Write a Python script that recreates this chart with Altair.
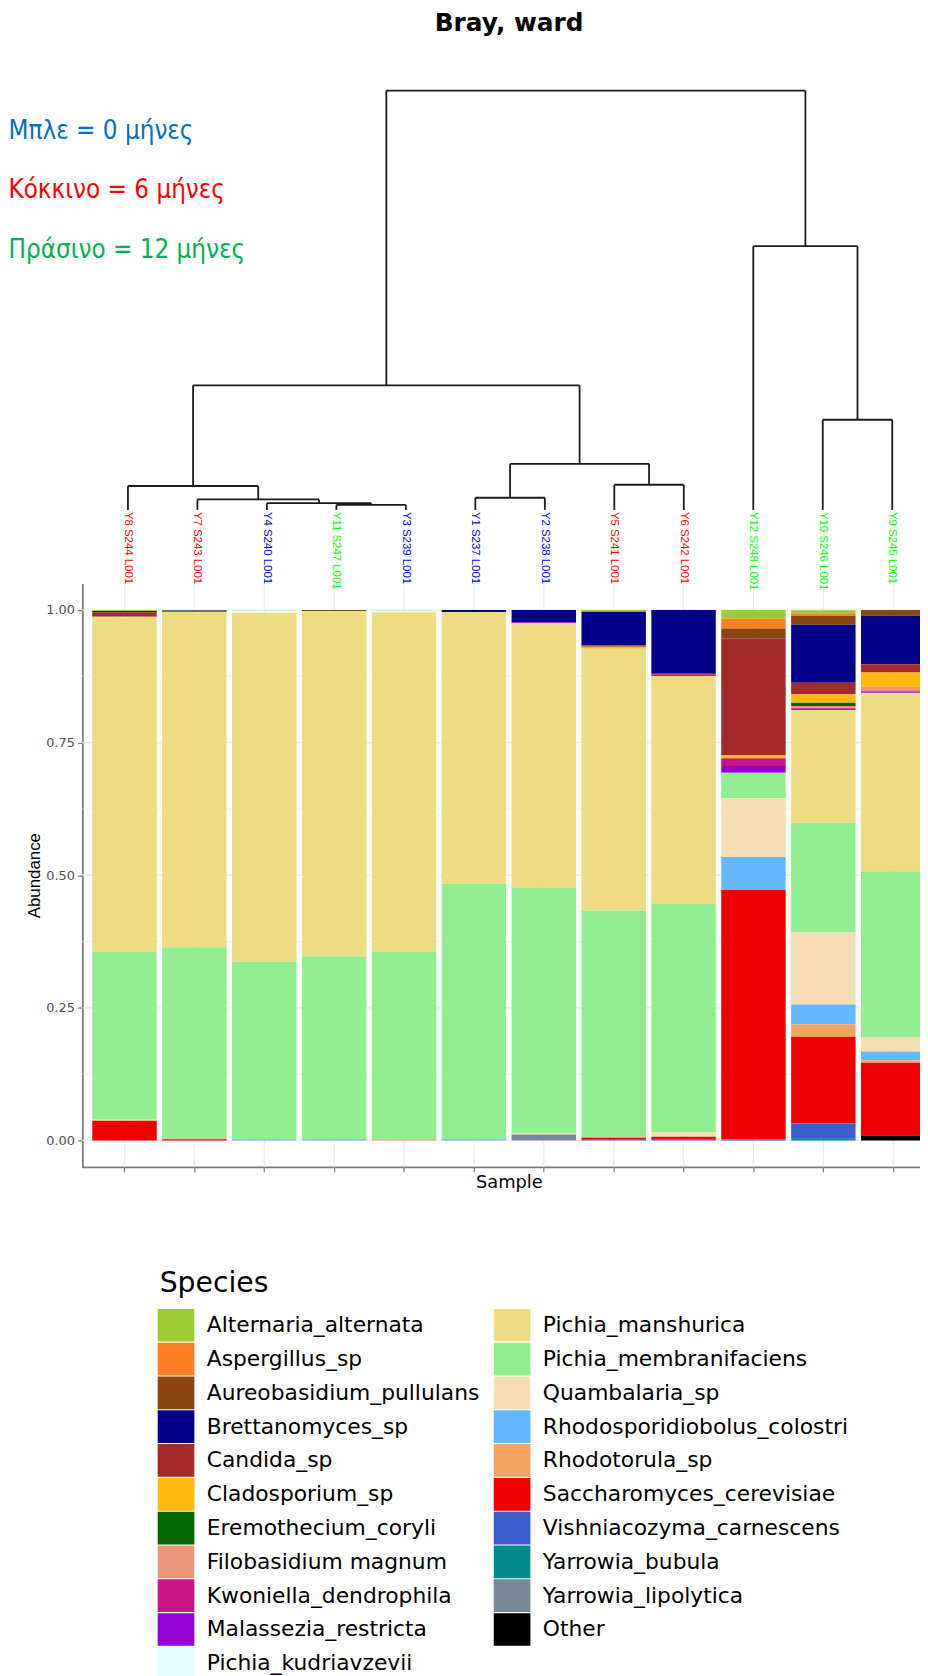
import altair as alt
import pandas as pd

# ---------------- data ----------------
species = ["Alternaria_alternata", "Aspergillus_sp", "Aureobasidium_pullulans",
           "Brettanomyces_sp", "Candida_sp", "Cladosporium_sp", "Eremothecium_coryli",
           "Filobasidium magnum", "Kwoniella_dendrophila", "Malassezia_restricta",
           "Pichia_kudriavzevii", "Pichia_manshurica", "Pichia_membranifaciens",
           "Quambalaria_sp", "Rhodosporidiobolus_colostri", "Rhodotorula_sp",
           "Saccharomyces_cerevisiae", "Vishniacozyma_carnescens", "Yarrowia_bubula",
           "Yarrowia_lipolytica", "Other"]
species_colors = ["#9ACD32", "#FF7F24", "#8B4513", "#00008B", "#A52A2A", "#FFB90F",
                  "#006400", "#E9967A", "#C71585", "#9400D3", "#E0FFFF", "#EEDC82",
                  "#90EE90", "#F5DEB3", "#63B8FF", "#F4A460", "#EE0000", "#3A5FCD",
                  "#008B8B", "#778899", "#000000"]

samples = ["Y8 S244 L001", "Y7 S243 L001", "Y4 S240 L001", "Y11 S247 L001",
           "Y3 S239 L001", "Y1 S237 L001", "Y2 S238 L001", "Y5 S241 L001",
           "Y6 S242 L001", "Y12 S248 L001", "Y10 S246 L001", "Y9 S245 L001"]
months = [6, 6, 0, 12, 0, 0, 0, 6, 6, 12, 12, 12]

#        Alt    Asp    Aur    Bret   Cand   Clad   Erem   Filo   Kwon   Mala   Pkud   Pman    Pmem    Quam   Rhsp   Rhot   Sacc   Vish   Ybub   Ylip   Oth
Y8  = [0.002, 0, 0, 0.002, 0.0086, 0, 0, 0, 0, 0, 0, 0.6324, 0.316, 0.002, 0, 0, 0.037, 0, 0, 0, 0]
Y7  = [0.001, 0, 0, 0.002, 0, 0, 0, 0, 0, 0, 0, 0.633, 0.361, 0, 0, 0.001, 0.002, 0, 0, 0, 0]
Y4  = [0.001, 0, 0, 0, 0, 0, 0, 0, 0, 0, 0.004, 0.658, 0.335, 0, 0.002, 0, 0, 0, 0, 0, 0]
Y11 = [0, 0, 0.002, 0, 0, 0, 0, 0, 0, 0, 0, 0.651, 0.345, 0, 0.002, 0, 0, 0, 0, 0, 0]
Y3  = [0.001, 0, 0, 0, 0, 0, 0, 0, 0, 0, 0.003, 0.641, 0.353, 0, 0, 0.002, 0, 0, 0, 0, 0]
Y1  = [0, 0, 0, 0.0035, 0, 0, 0, 0, 0, 0, 0, 0.5125, 0.482, 0, 0.002, 0, 0, 0, 0, 0, 0]
Y2  = [0, 0, 0, 0.023, 0, 0, 0, 0, 0, 0.002, 0, 0.498, 0.464, 0.002, 0, 0, 0, 0, 0, 0.011, 0]
Y5  = [0.003, 0, 0, 0.064, 0.002, 0.004, 0, 0, 0, 0, 0, 0.494, 0.426, 0, 0, 0.002, 0.004, 0.001, 0, 0, 0]
Y6  = [0, 0, 0, 0.120, 0.002, 0, 0, 0, 0.003, 0, 0, 0.429, 0.4305, 0.0085, 0, 0, 0.005, 0.002, 0, 0, 0]
Y12 = [0.0164, 0.0186, 0.0193, 0, 0.219, 0.0064, 0, 0, 0.0143, 0.0129, 0, 0, 0.048, 0.111, 0.062, 0, 0.470, 0.0021, 0, 0, 0]
Y10 = [0.0057, 0.005, 0.017, 0.109, 0.022, 0.0157, 0.0064, 0.004, 0.004, 0, 0, 0.212, 0.207, 0.136, 0.037, 0.024, 0.163, 0.029, 0.003, 0, 0]
Y9  = [0, 0, 0.0107, 0.0914, 0.0157, 0.027, 0, 0.0086, 0.002, 0.001, 0, 0.336, 0.313, 0.027, 0.0164, 0.005, 0.137, 0, 0, 0, 0.0093]
abundance = [Y8, Y7, Y4, Y11, Y3, Y1, Y2, Y5, Y6, Y12, Y10, Y9]

# Ward clustering (Bray-Curtis) merges: children are leaf indices or earlier merge ids
merge_ids = ["a", "b", "c", "d", "e", "f", "g", "L", "m", "R", "root"]
merge_left = [3, 2, 1, 0, 5, 7, "e", "d", 10, 9, "L"]
merge_right = [4, "a", "b", "c", 6, 8, "f", "g", 11, "m", "R"]
merge_height = [0.012, 0.016, 0.025, 0.057, 0.029, 0.060, 0.110, 0.297, 0.215, 0.629, 1.0]

y_ticks = [0, 0.25, 0.5, 0.75, 1.0]

month_domain = [0, 6, 12]
month_colors = ["#0000FF", "#FF0000", "#00FF00"]
note_texts = ["Μπλε = 0 μήνες", "Κόκκινο = 6 μήνες", "Πράσινο = 12 μήνες"]
note_colors = ["#0070C0", "#FF0000", "#00B050"]

# ---------------- layout (svg pixels) ----------------
W, H = 920, 1668
STEP = 70.5
P_IN, P_OUT = 0.078, 0.15
BAR_LEFT = 85.0
BAR_X0 = BAR_LEFT - P_OUT * STEP
BAR_X1 = BAR_X0 + STEP * (len(samples) - P_IN + 2 * P_OUT)
Y_BOT, Y_TOP = 1161.75, 573.25
DEN_X0, DEN_X1 = 121, 892
DEN_Y0, DEN_Y1 = 499, 76
AXIS_X = 75

# ---------------- tables ----------------
rows = []
for s, vals in zip(samples, abundance):
    for k, (sp, v) in enumerate(zip(species, vals)):
        if v > 0:
            rows.append({"sample": s, "species": sp, "value": v, "ord": k})
bars_df = pd.DataFrame(rows)

pos = {i: float(i) for i in range(len(samples))}
hgt = {i: 0.0 for i in range(len(samples))}
segs = []
for mid, l, r, h in zip(merge_ids, merge_left, merge_right, merge_height):
    pos[mid] = (pos[l] + pos[r]) / 2
    hgt[mid] = h
    segs.append({"x": pos[l], "x2": pos[r], "y": h, "y2": h})
    segs.append({"x": pos[l], "x2": pos[l], "y": hgt[l], "y2": h})
    segs.append({"x": pos[r], "x2": pos[r], "y": hgt[r], "y2": h})
seg_df = pd.DataFrame(segs)

lab_df = pd.DataFrame({"sample": samples, "idx": list(range(len(samples))), "months": months})

minor = [(a + b) / 2 for a, b in zip(y_ticks[:-1], y_ticks[1:])]
grid_df = pd.DataFrame({"v": y_ticks + minor, "kind": ["major"] * len(y_ticks) + ["minor"] * len(minor)})

# ---------------- scales ----------------
def xband():
    return alt.Scale(domain=samples, range=[BAR_X0, BAR_X1], paddingInner=P_IN, paddingOuter=P_OUT)

def ybar():
    return alt.Scale(domain=[-0.05, 1.05], range=[Y_BOT, Y_TOP], nice=False, zero=False)

den_x = alt.Scale(domain=[0, len(samples) - 1], range=[DEN_X0, DEN_X1], nice=False, zero=False)
den_y = alt.Scale(domain=[0, 1], range=[DEN_Y0, DEN_Y1], nice=False, zero=False)

# legend key: a slightly wide rectangle (ggplot key look)
KEY_PATH = "M-1.121,-1H1.121V1H-1.121Z"

# ---------------- layers ----------------
grid_h = alt.Chart(grid_df).mark_rule(color="#EBEBEB").encode(
    y=alt.Y("v:Q", scale=ybar(), axis=None),
    x=alt.value(AXIS_X), x2=alt.value(W),
    strokeWidth=alt.StrokeWidth("kind:N", scale=alt.Scale(domain=["major", "minor"], range=[1.2, 0.6]), legend=None),
)

grid_v = alt.Chart(pd.DataFrame({"sample": samples})).mark_rule(color="#EBEBEB", strokeWidth=1.2).encode(
    x=alt.X("sample:N", scale=xband(), axis=None),
    y=alt.value(Y_TOP), y2=alt.value(Y_BOT),
)

bars = alt.Chart(bars_df).mark_bar(clip=True).encode(
    x=alt.X("sample:N", scale=xband(),
            axis=alt.Axis(title="Sample", labels=False, ticks=True, tickSize=5, tickColor="#7A7A7A",
                          tickWidth=1.2, domainColor="#7A7A7A", domainWidth=1.8, grid=False,
                          offset=Y_BOT - H, titleFont="DejaVu Sans", titleFontSize=18,
                          titleFontWeight="normal", titleColor="black", titlePadding=1)),
    y=alt.Y("value:Q", stack="zero", scale=ybar(),
            axis=alt.Axis(title="Abundance", values=y_ticks, format=".2f", tickSize=5,
                          tickColor="#7A7A7A", tickWidth=1.2, domainColor="#7A7A7A", domainWidth=1.8,
                          grid=False, offset=-AXIS_X, labelFont="DejaVu Sans", labelFontSize=13,
                          labelColor="#4D4D4D", labelPadding=3, titleFont="Liberation Sans",
                          titleFontSize=17, titleFontWeight="normal", titleColor="black",
                          titleX=-48, titleBaseline="middle")),
    color=alt.Color("species:N", scale=alt.Scale(domain=species, range=species_colors),
                    legend=alt.Legend(title="Species", orient="none", legendX=153, legendY=1265,
                                      columns=2, direction="vertical", titleFont="DejaVu Sans",
                                      titleFontSize=28.5, titleFontWeight="normal", titleColor="black",
                                      titlePadding=11.5, labelFont="DejaVu Sans", labelFontSize=22,
                                      labelColor="black", labelLimit=500, symbolType=KEY_PATH,
                                      symbolSize=1089, symbolStrokeWidth=0, symbolOpacity=1,
                                      rowPadding=1.1, columnPadding=14, labelOffset=14.5,
                                      padding=0, offset=0)),
    order=alt.Order("ord:Q", sort="descending"),
)

dendro = alt.Chart(seg_df).mark_rule(color="#1A1A1A", strokeWidth=1.8).encode(
    x=alt.X("x:Q", scale=den_x, axis=None), x2="x2:Q",
    y=alt.Y("y:Q", scale=den_y, axis=None), y2="y2:Q",
)

labels = alt.Chart(lab_df).mark_text(angle=90, align="left", baseline="middle",
                                      font="Liberation Sans", fontSize=11.5).encode(
    x=alt.X("idx:Q", scale=den_x, axis=None),
    y=alt.value(DEN_Y0 + 2),
    text="sample:N",
    color=alt.Color("months:O", scale=alt.Scale(domain=month_domain, range=month_colors), legend=None),
)

one = pd.DataFrame({"k": [0]})
title = alt.Chart(one).mark_text(text="Bray, ward", font="DejaVu Sans", fontWeight="bold", fontSize=25,
                                 align="center", baseline="middle", color="black").encode(
    x=alt.value(505.5), y=alt.value(8))

notes = []
for i, (t, c) in enumerate(zip(note_texts, note_colors)):
    notes.append(alt.Chart(one).mark_text(text=t, font="Liberation Sans Narrow, DejaVu Sans Condensed, sans-serif",
                                          fontSize=26, align="left", baseline="middle", color=c).encode(
        x=alt.value(0.5), y=alt.value(116.5 + 60 * i)))

chart = alt.layer(grid_h, grid_v, bars, dendro, labels, title, *notes).resolve_scale(
    x="independent", y="independent", color="independent", strokeWidth="independent"
).properties(
    width=W, height=H, autosize=alt.AutoSizeParams(type="none"), padding=0
).configure_view(stroke=None)

chart.save("out.html", embed_options={"renderer": "svg", "actions": False})
